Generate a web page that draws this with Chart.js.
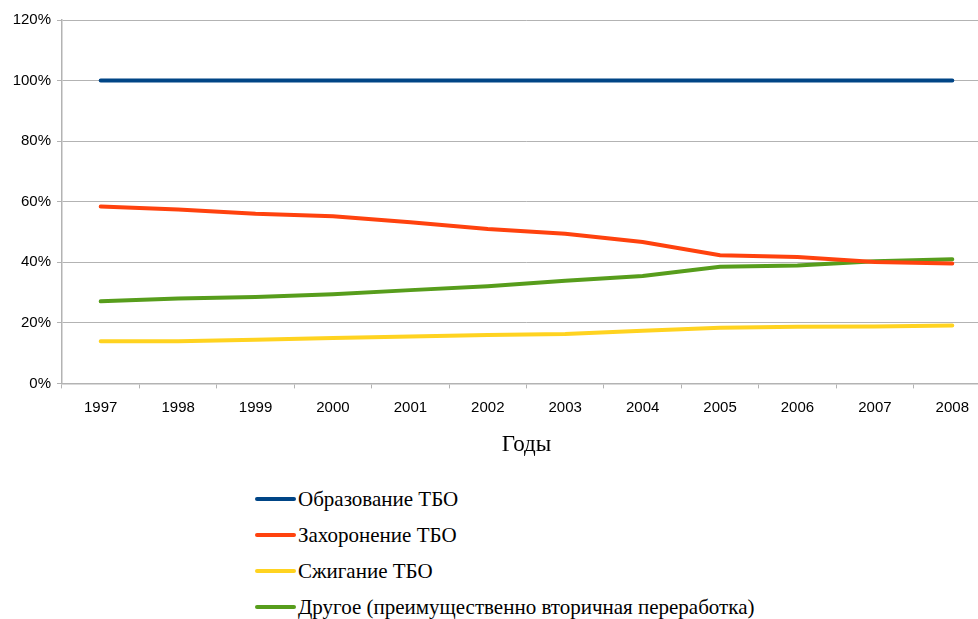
<!DOCTYPE html>
<html>
<head>
<meta charset="utf-8">
<script src="https://cdn.jsdelivr.net/npm/chart.js@4/dist/chart.umd.min.js"></script>
<style>
    html, body { margin: 0; padding: 0; background: #fff; overflow: hidden; }
    #wrap { position: relative; width: 1000px; height: 619px; }
    #legend {
        position: absolute; left: 255px; top: 481px;
        font-family: "Liberation Serif", "DejaVu Serif", serif;
        font-size: 21px; color: #000;
    }
    .item { height: 36px; display: flex; align-items: center; }
    .swatch { width: 41px; height: 4px; border-radius: 2px; margin-right: 2px; }
</style>
</head>
<body>
<div id="wrap">
    <canvas id="chart" width="1000" height="470" style="width:1000px;height:470px"></canvas>
    <div id="legend"></div>
</div>
<script>
const years = ["1997","1998","1999","2000","2001","2002","2003","2004","2005","2006","2007","2008"];

const obrazovanie = [100,100,100,100,100,100,100,100,100,100,100,100];
const zahoronenie = [58.4,57.4,56.0,55.2,53.2,51.0,49.4,46.7,42.3,41.7,40.1,39.6];
const szhiganie   = [13.9,13.9,14.4,15.0,15.5,16.0,16.3,17.4,18.4,18.7,18.8,19.1];
const drugoe      = [27.1,28.0,28.5,29.4,30.8,32.1,33.9,35.5,38.5,38.9,40.3,41.0];

const yTicks = [0,20,40,60,80,100,120];

const series = [
    { label: "Образование ТБО", data: obrazovanie, color: "#004586" },
    { label: "Захоронение ТБО", data: zahoronenie, color: "#ff420e" },
    { label: "Сжигание ТБО", data: szhiganie, color: "#ffd320" },
    { label: "Другое (преимущественно вторичная переработка)", data: drugoe, color: "#579d1c" }
];

const gridColor = "#b3b3b3";

new Chart(document.getElementById("chart"), {
    type: "line",
    data: {
        labels: years,
        datasets: series.map(s => ({
            label: s.label,
            data: s.data,
            borderColor: s.color,
            backgroundColor: s.color,
            borderWidth: 4,
            pointRadius: 0,
            tension: 0,
            borderCapStyle: "round"
        }))
    },
    options: {
        responsive: false,
        animation: false,
        layout: { padding: { top: 20, right: 9, left: 0, bottom: 0 } },
        plugins: {
            legend: { display: false },
            tooltip: { enabled: false }
        },
        scales: {
            x: {
                offset: true,
                grid: {
                    offset: true,
                    drawOnChartArea: false,
                    drawTicks: true,
                    tickLength: 5,
                    color: gridColor
                },
                border: { color: gridColor, width: 1.5 },
                ticks: {
                    color: "#000",
                    padding: 10,
                    font: { family: "Liberation Sans, Arial, sans-serif", size: 15 }
                },
                title: {
                    display: true,
                    text: "Годы",
                    color: "#000",
                    padding: { top: 5, bottom: 11 },
                    font: { family: "Liberation Serif, DejaVu Serif, serif", size: 23 }
                }
            },
            y: {
                min: 0,
                max: 120,
                afterBuildTicks: axis => {
                    axis.ticks = yTicks.map(v => ({ value: v }));
                },
                afterFit: axis => { axis.width = 62; },
                grid: {
                    color: gridColor,
                    tickLength: 5,
                    lineWidth: 1
                },
                border: { color: gridColor, width: 1.5 },
                ticks: {
                    color: "#000",
                    padding: 6,
                    font: { family: "Liberation Sans, Arial, sans-serif", size: 15 },
                    callback: v => v + "%"
                }
            }
        }
    }
});

const legend = document.getElementById("legend");
series.forEach(s => {
    const item = document.createElement("div");
    item.className = "item";
    const sw = document.createElement("span");
    sw.className = "swatch";
    sw.style.background = s.color;
    const txt = document.createElement("span");
    txt.textContent = s.label;
    item.appendChild(sw);
    item.appendChild(txt);
    legend.appendChild(item);
});
</script>
</body>
</html>
